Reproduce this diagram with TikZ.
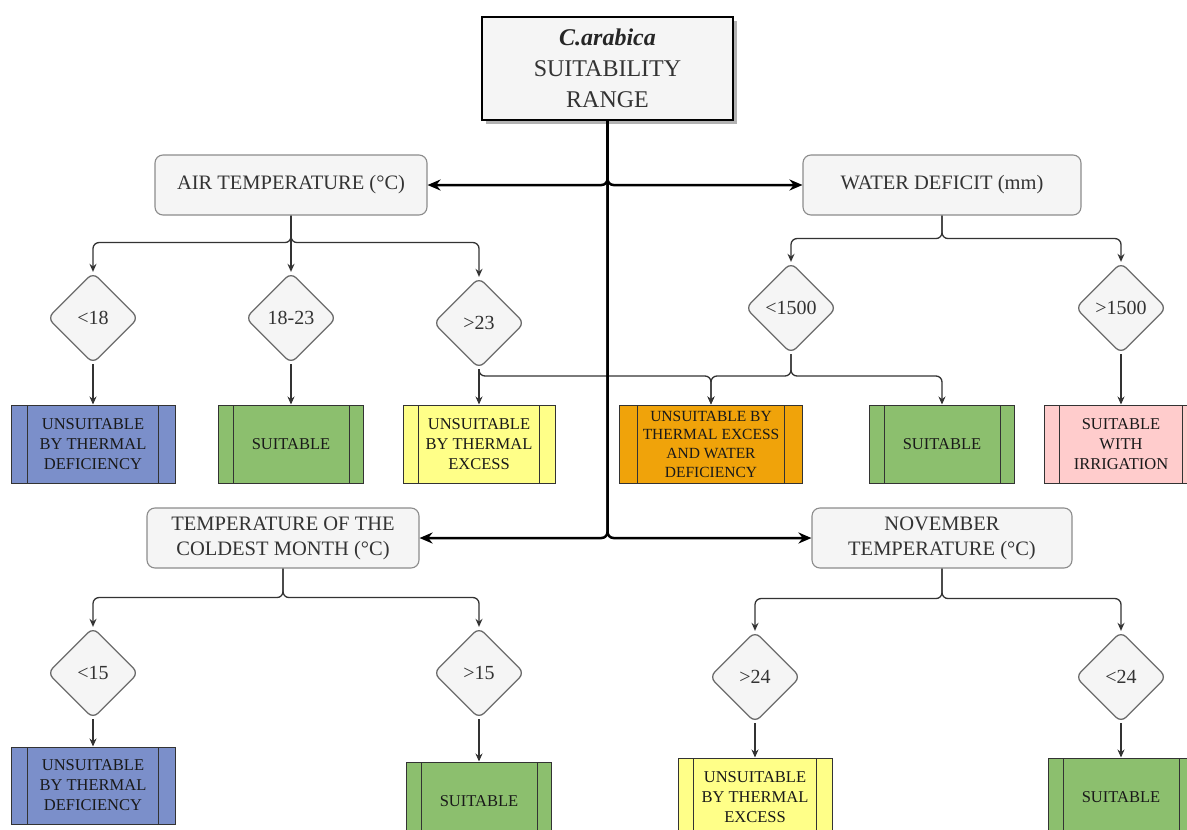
\documentclass[tikz,border=0pt]{standalone}
\usepackage{fontspec}
\setmainfont{Liberation Serif}
\usetikzlibrary{shapes.geometric,arrows.meta,shadows}

\definecolor{grayfill}{HTML}{F5F5F5}
\definecolor{graydraw}{HTML}{8C8C8C}
\definecolor{diadraw}{HTML}{6B6B6B}
\definecolor{txt}{HTML}{333333}
\definecolor{cblue}{HTML}{7B8FCA}
\definecolor{cgreen}{HTML}{8CBF6E}
\definecolor{cyellow}{HTML}{FFFF88}
\definecolor{corange}{HTML}{F0A30A}
\definecolor{cpink}{HTML}{FFCCCC}

\begin{document}
\begin{tikzpicture}[x=1pt,y=-1pt,
  catbox/.style={draw=graydraw, fill=grayfill, rounded corners=8pt, line width=1.1pt,
    text=txt, font=\fontsize{20.5}{25}\selectfont, align=center, inner sep=0pt},
  cond/.style={diamond, aspect=1, draw=diadraw, fill=grayfill, line width=1.3pt,
    rounded corners=7pt, minimum size=91pt, inner sep=0pt, text=txt,
    font=\fontsize{20}{24}\selectfont},
  proc/.style n args={3}{draw=black!80, line width=1pt, fill=#2, minimum width=#1pt,
    minimum height=#3pt, inner sep=0pt, align=center,
    font=\fontsize{16.5}{20}\selectfont, text=black!90,
    path picture={\draw[black!80,line width=1pt]
      ([xshift=0.1*#1pt]path picture bounding box.north west) --
      ([xshift=0.1*#1pt]path picture bounding box.south west)
      ([xshift=-0.1*#1pt]path picture bounding box.north east) --
      ([xshift=-0.1*#1pt]path picture bounding box.south east);}},
  trunkarrow/.style={line width=2.5pt, rounded corners=6pt, -{Stealth[length=13pt,width=11pt]}},
  thinarrow/.style={draw=txt, line width=1.3pt, rounded corners=6pt, -{Stealth[length=8pt,width=7pt]}},
]
\useasboundingbox (0,0) rectangle (1187,830);
\fill[white] (0,0) rectangle (1187,830);
\clip (0,0) rectangle (1187,830);

% root
\node[draw=black, line width=2pt, fill=grayfill, minimum width=251pt, minimum height=103pt,
  inner sep=0pt, align=center, text=txt, font=\fontsize{24}{31}\selectfont,
  drop shadow={shadow xshift=4pt, shadow yshift=-4pt, fill=black!30, opacity=1}]
  (top) at (607.5,68.5) {{\color{black!85}\textbf{\textit{C.arabica}}}\\SUITABILITY\\RANGE};

% category boxes
\node[catbox, minimum width=272pt, minimum height=60pt] (air) at (291,185) {AIR TEMPERATURE (°C)};
\node[catbox, minimum width=278pt, minimum height=60pt] (water) at (942,185) {WATER DEFICIT (mm)};
\node[catbox, minimum width=272pt, minimum height=60pt] (cold) at (283,538) {TEMPERATURE OF THE\\COLDEST MONTH (°C)};
\node[catbox, minimum width=260pt, minimum height=60pt] (nov) at (942,538) {NOVEMBER\\TEMPERATURE (°C)};

% decisions
\node[cond] (d18) at (93,318) {<18};
\node[cond] (d1823) at (291,318) {18-23};
\node[cond] (d23) at (479,323) {>23};
\node[cond] (dwl) at (791,308) {<1500};
\node[cond] (dwg) at (1121,308) {>1500};
\node[cond] (d15l) at (93,673) {<15};
\node[cond] (d15g) at (479,673) {>15};
\node[cond] (d24g) at (755,677) {>24};
\node[cond] (d24l) at (1121,677) {<24};

% outcomes
\node[proc={164}{cblue}{78}] (p1) at (93,444) {UNSUITABLE\\BY THERMAL\\DEFICIENCY};
\node[proc={145}{cgreen}{78}] (p2) at (291,444) {SUITABLE};
\node[proc={152}{cyellow}{78}] (p3) at (479,444) {UNSUITABLE\\BY THERMAL\\EXCESS};
\node[proc={183}{corange}{78}, font=\fontsize{15.5}{18.7}\selectfont] (p4) at (711,444) {UNSUITABLE BY\\THERMAL EXCESS\\AND WATER\\DEFICIENCY};
\node[proc={145}{cgreen}{78}] (p5) at (942,444) {SUITABLE};
\node[proc={154}{cpink}{78}] (p6) at (1121,444) {SUITABLE\\WITH\\IRRIGATION};
\node[proc={164}{cblue}{77}] (p7) at (93,785.5) {UNSUITABLE\\BY THERMAL\\DEFICIENCY};
\node[proc={145}{cgreen}{78}] (p8) at (479,801) {SUITABLE};
\node[proc={154}{cyellow}{78}] (p9) at (755,797) {UNSUITABLE\\BY THERMAL\\EXCESS};
\node[proc={145}{cgreen}{78}] (p10) at (1121,797) {SUITABLE};

% thin connectors
\draw[thinarrow] (air.south) -- ++(0,27) -| (d18.north);
\draw[thinarrow] (air.south) -- (d1823.north);
\draw[thinarrow] (air.south) -- ++(0,27) -| (d23.north);
\draw[thinarrow] (d18.south) -- (p1.north);
\draw[thinarrow] (d1823.south) -- (p2.north);
\draw[thinarrow] (d23.south) -- (p3.north);
\draw[thinarrow] (d23.south) -- (d23.south |- 0,376) -| (p4.north);
\draw[thinarrow] (water.south) -- ++(0,23) -| (dwl.north);
\draw[thinarrow] (water.south) -- ++(0,23) -| (dwg.north);
\draw[thinarrow] (dwl.south) -- (dwl.south |- 0,376) -| (p4.north);
\draw[thinarrow] (dwl.south) -- (dwl.south |- 0,376) -| (p5.north);
\draw[thinarrow] (dwg.south) -- (p6.north);
\draw[thinarrow] (cold.south) -- ++(0,29) -| (d15l.north);
\draw[thinarrow] (cold.south) -- ++(0,29) -| (d15g.north);
\draw[thinarrow] (d15l.south) -- (p7.north);
\draw[thinarrow] (d15g.south) -- (p8.north);
\draw[thinarrow] (nov.south) -- ++(0,30) -| (d24g.north);
\draw[thinarrow] (nov.south) -- ++(0,30) -| (d24l.north);
\draw[thinarrow] (d24g.south) -- (p9.north);
\draw[thinarrow] (d24l.south) -- (p10.north);

% trunk
\draw[trunkarrow] (top.south) |- (air.east);
\draw[trunkarrow] (top.south) |- (water.west);
\draw[trunkarrow] (top.south) |- (cold.east);
\draw[trunkarrow] (top.south) |- (nov.west);
\end{tikzpicture}
\end{document}
